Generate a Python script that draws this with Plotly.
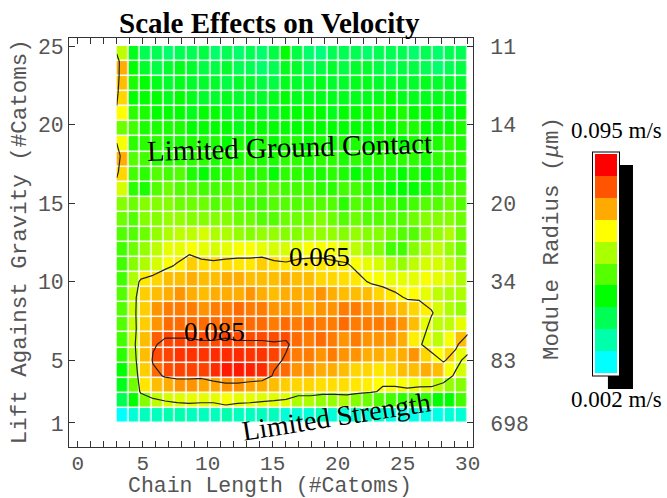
import numpy as np
import plotly.graph_objects as go

# ---------------- data ----------------
chain_length_range = [3, 30]        # x extent of the grid (#Catoms)
lift_range = [1, 25]                # y extent of the grid (#Catoms)
x_ticks = [0, 5, 10, 15, 20, 25, 30]
y_ticks = [1, 5, 10, 15, 20, 25]
radius_tick_labels = ["698", "83", "34", "20", "14", "11"]   # module radius (um) at y_ticks
contour_levels = [0.065, 0.085]
v_min, v_max = 0.002, 0.095          # m/s, colour bar limits

# velocity in mm/s, rows from top (lift 25) to bottom (lift 1), 30 columns
velocity_mm_s = [
    [56, 30, 23, 23, 20, 23, 23, 25, 20, 23, 20, 23, 20, 25, 33, 25, 20, 18, 23, 23, 23, 20, 23, 23, 23, 20, 23, 20, 23, 23],
    [74, 33, 28, 25, 28, 30, 28, 25, 25, 28, 23, 23, 20, 23, 30, 28, 23, 25, 28, 25, 28, 28, 25, 23, 25, 25, 23, 20, 23, 25],
    [72, 36, 33, 30, 28, 30, 28, 28, 28, 25, 28, 28, 25, 25, 30, 28, 28, 30, 28, 28, 30, 30, 28, 28, 28, 28, 30, 28, 28, 28],
    [69, 33, 33, 33, 30, 33, 30, 28, 28, 30, 28, 28, 28, 30, 33, 30, 30, 30, 30, 30, 30, 30, 30, 33, 30, 30, 30, 30, 30, 30],
    [64, 38, 36, 33, 33, 33, 30, 33, 33, 30, 30, 33, 30, 30, 33, 33, 33, 33, 30, 33, 33, 33, 36, 33, 36, 33, 33, 33, 30, 33],
    [46, 41, 36, 36, 36, 36, 33, 33, 33, 33, 30, 33, 33, 33, 33, 33, 33, 33, 33, 33, 33, 33, 33, 33, 36, 36, 33, 33, 33, 36],
    [63, 38, 38, 38, 36, 36, 36, 36, 36, 33, 36, 33, 36, 33, 36, 36, 33, 36, 33, 36, 36, 33, 36, 36, 33, 36, 36, 36, 38, 36],
    [74, 43, 41, 38, 38, 38, 38, 38, 36, 38, 36, 38, 36, 36, 38, 38, 36, 38, 38, 36, 38, 36, 38, 36, 38, 38, 36, 38, 38, 38],
    [69, 41, 38, 43, 41, 43, 36, 33, 36, 38, 41, 36, 38, 33, 38, 38, 36, 36, 38, 36, 33, 36, 36, 36, 33, 36, 33, 36, 38, 38],
    [59, 38, 36, 43, 46, 43, 43, 41, 41, 43, 43, 43, 41, 43, 41, 41, 41, 38, 38, 41, 41, 38, 36, 33, 33, 33, 36, 38, 41, 41],
    [49, 46, 49, 49, 49, 46, 46, 46, 43, 46, 43, 41, 41, 43, 43, 43, 43, 43, 43, 38, 43, 41, 41, 41, 38, 41, 43, 43, 46, 43],
    [46, 43, 49, 49, 51, 51, 49, 49, 49, 49, 46, 46, 43, 43, 46, 46, 46, 49, 46, 43, 46, 43, 43, 43, 43, 46, 49, 49, 49, 46],
    [43, 43, 46, 51, 54, 56, 56, 59, 54, 54, 51, 49, 51, 51, 49, 49, 51, 51, 51, 49, 51, 49, 49, 46, 43, 43, 49, 51, 54, 46],
    [41, 46, 51, 56, 61, 61, 63, 61, 59, 61, 63, 63, 61, 59, 59, 61, 63, 63, 63, 61, 56, 51, 49, 41, 41, 49, 54, 56, 51, 46],
    [41, 49, 54, 59, 63, 66, 70, 68, 68, 68, 67, 67, 70, 68, 67, 68, 67, 67, 66, 66, 63, 61, 59, 54, 51, 56, 59, 59, 56, 51],
    [41, 54, 67, 69, 72, 72, 74, 72, 72, 74, 74, 72, 72, 72, 74, 72, 72, 69, 69, 68, 67, 64, 63, 61, 61, 61, 63, 61, 59, 54],
    [43, 57, 70, 72, 74, 77, 74, 72, 74, 74, 74, 77, 74, 72, 74, 74, 74, 77, 74, 72, 72, 72, 69, 67, 64, 64, 61, 56, 54, 54],
    [43, 58, 70, 77, 80, 80, 80, 77, 80, 80, 82, 80, 80, 77, 77, 77, 74, 77, 77, 80, 80, 77, 77, 74, 72, 69, 66, 59, 54, 51],
    [43, 57, 70, 77, 82, 82, 82, 82, 82, 82, 82, 82, 82, 80, 82, 80, 82, 80, 80, 82, 80, 80, 80, 80, 77, 72, 61, 56, 56, 61],
    [41, 57, 72, 84, 87, 87, 87, 86, 86, 87, 86, 86, 86, 86, 86, 82, 80, 82, 80, 77, 80, 77, 77, 77, 74, 66, 61, 56, 63, 72],
    [38, 54, 72, 86, 87, 89, 89, 89, 90, 90, 90, 89, 89, 87, 84, 80, 80, 77, 80, 77, 77, 74, 74, 72, 74, 77, 69, 64, 69, 61],
    [33, 51, 70, 82, 86, 87, 87, 87, 90, 92, 92, 91, 90, 84, 82, 77, 77, 74, 74, 72, 69, 69, 67, 69, 72, 72, 74, 72, 63, 59],
    [30, 46, 67, 72, 74, 77, 77, 75, 75, 77, 77, 75, 74, 72, 70, 69, 69, 68, 68, 68, 67, 66, 64, 63, 63, 62, 61, 56, 51, 49],
    [23, 33, 49, 56, 59, 60, 61, 61, 61, 63, 61, 61, 60, 60, 60, 54, 54, 51, 51, 54, 49, 46, 43, 41, 38, 41, 38, 33, 33, 41],
    [2, 7, 10, 10, 12, 12, 10, 10, 10, 12, 10, 10, 10, 10, 7, 7, 7, 10, 7, 7, 7, 7, 7, 5, 5, 5, 5, 5, 7, 7],
]

# ---------------- build ----------------
z = np.array(velocity_mm_s[::-1], dtype=float) / 1000.0   # bottom row first, m/s
nrows, ncols = z.shape
x_edges = np.linspace(chain_length_range[0], chain_length_range[1], ncols + 1)
y_edges = np.linspace(lift_range[0], lift_range[1], nrows + 1)
x_pts = np.linspace(chain_length_range[0], chain_length_range[1], ncols)
y_pts = np.linspace(lift_range[0], lift_range[1], nrows)

hue_scale = [[i / 18, f"hsl({180 - 10 * i},100%,50%)"] for i in range(19)]
step_scale = []
for k in range(10):
    c = f"hsl({180 - 20 * k},100%,50%)"
    step_scale += [[k / 10, c], [(k + 1) / 10, c]]

MONO = "Liberation Mono, Courier New, monospace"
SERIF = "Liberation Serif, Times New Roman, serif"
GRAY = "#555555"
AX = "#333333"

fig = go.Figure()
fig.add_trace(go.Heatmap(
    x=x_edges, y=y_edges, z=z, colorscale=hue_scale, zmin=v_min, zmax=v_max,
    xgap=1.5, ygap=1.5, showscale=False, hoverinfo="skip"))
fig.add_trace(go.Contour(
    x=x_pts, y=y_pts, z=z,
    contours=dict(start=contour_levels[0], end=contour_levels[1] + 1e-4,
                  size=contour_levels[1] - contour_levels[0], coloring="none"),
    line=dict(color="#222222", width=1.2, smoothing=0),
    showscale=False, hoverinfo="skip"))
fig.add_trace(go.Scatter(
    x=[None, None], y=[None, None], yaxis="y2", mode="markers", showlegend=False,
    hoverinfo="skip",
    marker=dict(color=[v_min, v_max], colorscale=step_scale, cmin=v_min, cmax=v_max,
                showscale=True,
                colorbar=dict(thickness=22, thicknessmode="pixels", lenmode="pixels", len=223,
                              x=1.297, xanchor="left", y=0.4487, yanchor="middle",
                              xpad=2, ypad=2, outlinewidth=0, borderwidth=1,
                              bordercolor="black", bgcolor="white",
                              showticklabels=False, ticks=""))))

yrange = [-0.53, 25.51]
fig.update_layout(
    width=667, height=498, paper_bgcolor="white", plot_bgcolor="white",
    margin=dict(l=69, r=194, t=38, b=51), showlegend=False,
    xaxis=dict(range=[-0.67, 30.41], tickvals=x_ticks, ticks="inside", ticklen=6,
               tickcolor=AX, showline=True, linecolor=AX, linewidth=1, mirror="allticks",
               showgrid=False, zeroline=False, ticklabelstandoff=-3,
               minor=dict(dtick=1, tick0=0, ticks="inside", ticklen=3, tickcolor=AX),
               tickfont=dict(family=MONO, size=21, color=GRAY)),
    yaxis=dict(range=yrange, tickvals=y_ticks, ticks="inside", ticklen=6, tickcolor=AX,
               showline=True, linecolor=AX, linewidth=1, showgrid=False, zeroline=False,
               tickfont=dict(family=MONO, size=21.5, color=GRAY)),
    yaxis2=dict(range=yrange, overlaying="y", side="right", anchor="x",
                tickvals=y_ticks, ticktext=radius_tick_labels, ticks="inside", ticklen=6,
                tickcolor=AX, showline=True, linecolor=AX, linewidth=1, showgrid=False,
                zeroline=False, ticklabelstandoff=12,
                tickfont=dict(family=MONO, size=21.5, color=GRAY)),
)

# colour bar drop shadow
fig.add_shape(type="rect", xref="paper", yref="paper", x0=1.334, x1=1.396, y0=0.1418, y1=0.6895,
              fillcolor="black", line=dict(width=0), layer="above")

ann = [
    dict(text="<b>Scale Effects on Velocity</b>", x=0.4975, y=1.037, xref="paper", yref="paper",
         font=dict(family=SERIF, size=29, color="black")),
    dict(text="Chain Length (#Catoms)", x=0.4975, y=-0.0965, xref="paper", yref="paper",
         font=dict(family=MONO, size=21.5, color=GRAY)),
    dict(text="Lift Against Gravity (#Catoms)", x=-0.121, y=0.501, xref="paper", yref="paper",
         textangle=-90, font=dict(family=MONO, size=22.5, color=GRAY)),
    dict(text="Module Radius (<i>μ</i>m)", x=1.1955, y=0.511, xref="paper", yref="paper",
         textangle=-90, font=dict(family=MONO, size=22.5, color=GRAY)),
    dict(text="0.095 m/s", x=1.356, y=0.775, xref="paper", yref="paper",
         font=dict(family=SERIF, size=23, color="black")),
    dict(text="0.002 m/s", x=1.356, y=0.115, xref="paper", yref="paper",
         font=dict(family=SERIF, size=23, color="black")),
    dict(text="Limited Ground Contact", x=16.3, y=18.57, xref="x", yref="y", textangle=-1.6,
         font=dict(family=SERIF, size=29, color="black")),
    dict(text="Limited Strength", x=19.9, y=1.43, xref="x", yref="y", textangle=-9,
         font=dict(family=SERIF, size=28, color="black")),
    dict(text="0.065", x=18.6, y=11.56, xref="x", yref="y",
         font=dict(family=SERIF, size=27, color="black")),
    dict(text="0.085", x=10.5, y=6.78, xref="x", yref="y",
         font=dict(family=SERIF, size=27, color="black")),
]
for a in ann:
    a.setdefault("showarrow", False)
    a.setdefault("xanchor", "center")
    a.setdefault("yanchor", "middle")
    fig.add_annotation(**a)

fig.write_html("out.html", config={"displayModeBar": False},
               post_script="document.body.style.margin='0px';")
